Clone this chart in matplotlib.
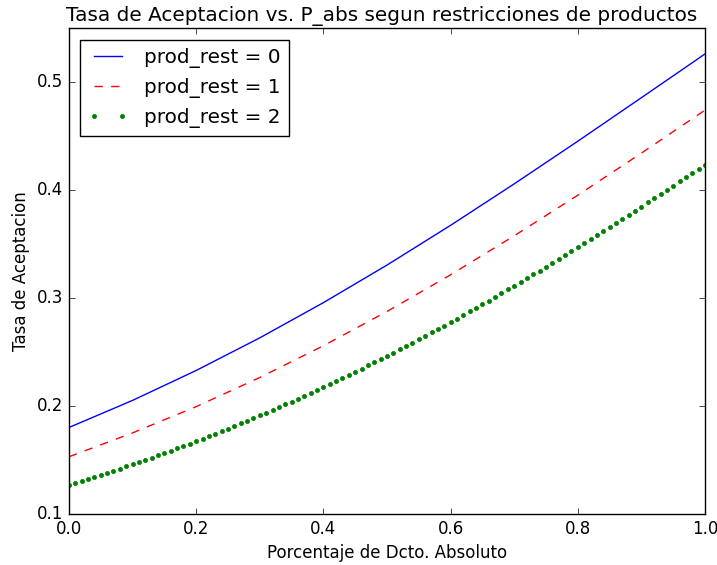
import numpy as np
import matplotlib
matplotlib.use("Agg")
import matplotlib.pyplot as plt

# Porcentaje de descuento absoluto (eje x)
x_coarse = [0.0, 0.1, 0.2, 0.3, 0.4, 0.5, 0.6, 0.7, 0.8, 0.9, 1.0]
x_fine = np.linspace(0, 1, 101)

# Tasa de aceptacion
rest0 = [0.1801, 0.2052, 0.2329, 0.2631, 0.2957, 0.3305, 0.3673, 0.4057, 0.4452, 0.4855, 0.5260]
rest1 = [0.1530, 0.1751, 0.1994, 0.2264, 0.2558, 0.2875, 0.3215, 0.3576, 0.3952, 0.4342, 0.4740]
rest2 = [0.1270, 0.1288, 0.1306, 0.1325, 0.1343, 0.1362, 0.1381, 0.1401, 0.1420, 0.1440,
         0.1460, 0.1481, 0.1501, 0.1522, 0.1543, 0.1564, 0.1586, 0.1608, 0.1629, 0.1652,
         0.1674, 0.1697, 0.1720, 0.1743, 0.1767, 0.1790, 0.1814, 0.1839, 0.1863, 0.1888,
         0.1912, 0.1938, 0.1963, 0.1989, 0.2015, 0.2041, 0.2068, 0.2094, 0.2121, 0.2148,
         0.2176, 0.2203, 0.2231, 0.2260, 0.2288, 0.2317, 0.2346, 0.2375, 0.2404, 0.2434,
         0.2464, 0.2494, 0.2524, 0.2555, 0.2586, 0.2617, 0.2649, 0.2681, 0.2712, 0.2745,
         0.2777, 0.2809, 0.2842, 0.2875, 0.2909, 0.2942, 0.2976, 0.3010, 0.3044, 0.3079,
         0.3113, 0.3148, 0.3183, 0.3218, 0.3254, 0.3289, 0.3325, 0.3361, 0.3397, 0.3434,
         0.3471, 0.3507, 0.3544, 0.3582, 0.3619, 0.3656, 0.3694, 0.3732, 0.3770, 0.3808,
         0.3846, 0.3885, 0.3923, 0.3962, 0.4001, 0.4040, 0.4079, 0.4118, 0.4157, 0.4197,
         0.4236]

plt.style.use('classic')

fig = plt.figure(figsize=(7.17, 5.65), dpi=100)
fig.patch.set_facecolor('white')
ax = fig.add_axes([0.0962, 0.0903, 0.8871, 0.8601])

ax.plot(x_coarse, rest0, 'b-', label='prod_rest = 0')
ax.plot(x_coarse, rest1, 'r--', label='prod_rest = 1')
ax.plot(x_fine, rest2, 'g.', label='prod_rest = 2')

ax.set_xlim(0, 1)
ax.set_ylim(0.1, 0.55)
ax.set_xticks([0.0, 0.2, 0.4, 0.6, 0.8, 1.0])
ax.set_yticks([0.1, 0.2, 0.3, 0.4, 0.5])

ax.set_title('Tasa de Aceptacion vs. P_abs segun restricciones de productos', x=0.492)
ax.set_xlabel('Porcentaje de Dcto. Absoluto')
ax.set_ylabel('Tasa de Aceptacion')
ax.legend(loc='upper left', bbox_to_anchor=(0.002, 0.996))

fig.savefig('out.png', dpi=100, facecolor='white')
